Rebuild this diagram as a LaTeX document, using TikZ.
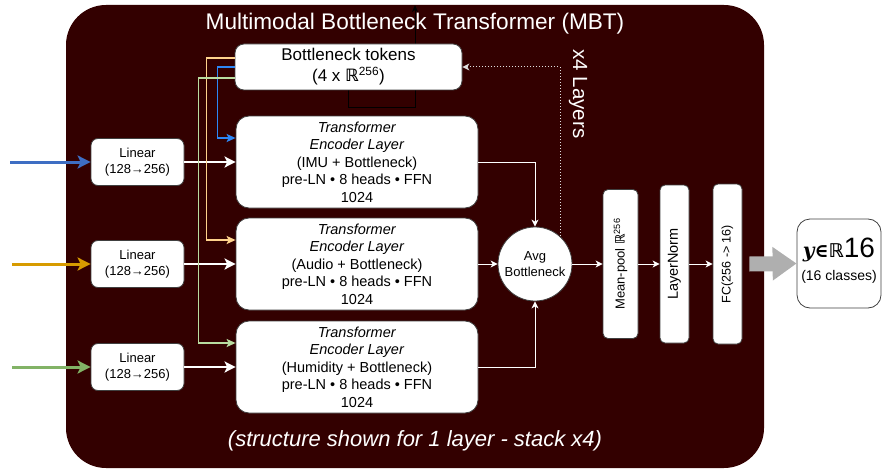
\documentclass[tikz,border=0pt]{standalone}
\usepackage{fontspec}
\setmainfont{Liberation Sans}
\newfontfamily\dv{DejaVu Sans}
\newfontfamily\dvs{DejaVu Serif}
\usetikzlibrary{arrows.meta}
\pgfdeclarelayer{bottom}
\pgfdeclarelayer{behind}
\pgfsetlayers{bottom,behind,main}
\definecolor{bgc}{RGB}{51,0,0}
\definecolor{inblue}{RGB}{62,110,195}
\definecolor{inorange}{RGB}{215,155,0}
\definecolor{ingreen}{RGB}{130,179,102}
\definecolor{bnblue}{RGB}{45,135,245}
\definecolor{bnorange}{RGB}{255,210,140}
\definecolor{bngreen}{RGB}{185,220,160}
\definecolor{bigarrow}{RGB}{175,175,175}
\tikzset{
  wbox/.style={draw=black!75, line width=0.8pt, fill=white, inner sep=0pt, align=center, text=black},
  linbox/.style={wbox, rounded corners=7pt, minimum width=93pt, minimum height=47pt, font=\fontsize{13}{16.5}\selectfont},
  tfbox/.style={wbox, rounded corners=13pt, minimum width=242pt, minimum height=92pt, font=\fontsize{14.5}{17.5}\selectfont},
  tallbox/.style={wbox, rounded corners=5pt, inner sep=0pt},
  inarrow/.style={line width=3pt, -{Stealth[length=13pt,width=13pt,inset=3pt]}},
  warrow/.style={white, line width=2.5pt, -{Stealth[length=11pt,width=11pt,inset=2.5pt]}},
  bnline/.style={line width=1.6pt, -{Stealth[length=9pt,width=8pt,inset=2pt]}},
  thinw/.style={white, line width=1pt, -{Stealth[length=7pt,width=7pt,inset=2pt]}},
  dotw/.style={white!75!gray, line width=1pt, dotted, -{Stealth[length=7pt,width=7pt,inset=2pt]}},
  wtext/.style={text=white, inner sep=0pt}
}
\begin{document}
\begin{tikzpicture}[x=1pt,y=-1pt]
\useasboundingbox (0,0) rectangle (882,468);
\begin{pgfonlayer}{bottom}
\fill[bgc, rounded corners=40pt] (66,5) rectangle (764,468);
\end{pgfonlayer}

\node[wtext, font=\fontsize{22.6}{22.6}\selectfont] (title) at (415,24) {Multimodal Bottleneck Transformer (MBT)};
\node[wtext, font=\fontsize{22}{22}\selectfont\itshape] (foot) at (415,441) {(structure shown for 1 layer - stack x4)};
\node[wtext, rotate=-90, font=\fontsize{20.5}{20.5}\selectfont] (x4) at (578,94) {x4 Layers};

\node[wbox, rounded corners=9pt, minimum width=227pt, minimum height=46pt, font=\fontsize{17}{21}\selectfont] (bt) at (348.5,67) {Bottleneck tokens\\(4 x {\dv\bfseries ℝ}\textsuperscript{256})};

\node[tfbox] (t1) at (357,162) {\textit{Transformer}\\\textit{Encoder Layer}\\(IMU + Bottleneck)\\pre-LN • 8 heads • FFN\\1024};
\node[tfbox] (t2) at (357,264) {\textit{Transformer}\\\textit{Encoder Layer}\\(Audio + Bottleneck)\\pre-LN • 8 heads • FFN\\1024};
\node[tfbox] (t3) at (357,367) {\textit{Transformer}\\\textit{Encoder Layer}\\(Humidity + Bottleneck)\\pre-LN • 8 heads • FFN\\1024};

\node[linbox] (l1) at (137.5,162) {Linear\\(128→256)};
\node[linbox] (l2) at (137.5,264) {Linear\\(128→256)};
\node[linbox] (l3) at (137.5,367) {Linear\\(128→256)};

\node[wbox, circle, minimum size=74pt, font=\fontsize{13}{16}\selectfont] (avg) at (535,264) {Avg\\Bottleneck};

\node[tallbox, minimum width=35pt, minimum height=149pt] (mp) at (620.5,264) {};
\node[rotate=90, font=\fontsize{13}{13}\selectfont, inner sep=0pt] (mpt) at (mp.center) {Mean-pool {\dv\bfseries ℝ}\textsuperscript{256}};
\node[tallbox, minimum width=29pt, minimum height=158pt] (ln) at (674.5,264) {};
\node[rotate=90, font=\fontsize{14.5}{14.5}\selectfont, inner sep=0pt] (lnt) at (ln.center) {LayerNorm};
\node[tallbox, minimum width=29pt, minimum height=160pt] (fc) at (727.5,264) {};
\node[rotate=90, font=\fontsize{12.5}{12.5}\selectfont, inner sep=0pt] (fct) at (fc.center) {FC(256 -> 16)};

\node[wbox, rounded corners=13pt, minimum width=84pt, minimum height=89pt] (out) at (839,263.5) {};
\node[inner sep=0pt] (outa) at (839,250) {{\fontsize{20}{20}\selectfont\dvs\bfseries\itshape y}{\fontsize{19}{19}\selectfont\dvs\bfseries ∈}{\fontsize{19}{19}\selectfont\dv\bfseries ℝ}{\fontsize{28}{28}\selectfont 16}};
\node[inner sep=0pt, font=\fontsize{14}{14}\selectfont] (outb) at (839,277) {(16 classes)};

% black loop arrow
\coordinate (topc) at (415,5);
\begin{pgfonlayer}{behind}
\draw[black, line width=1pt, -{Stealth[length=7pt,width=6pt,inset=2pt]}] (bt.south) -- ++(0,17) -| (topc);
\end{pgfonlayer}

% inputs
\coordinate (in1) at (10,162);
\coordinate (in2) at (12,264);
\coordinate (in3) at (12,367);
\draw[inarrow, inblue] (in1) -- (l1.west);
\draw[inarrow, inorange] (in2) -- (l2.west);
\draw[inarrow, ingreen] (in3) -- (l3.west);

\draw[warrow] (l1.east) -- (t1.west);
\draw[warrow] (l2.east) -- (t2.west);
\draw[warrow] (l3.east) -- (t3.west);

% bottleneck distribution
\draw[bnline, bnorange] ([yshift=9pt]bt.west) -- ++(-28,0) |- ([yshift=24pt]t2.west);
\draw[bnline, bnblue] (bt.west) -- ++(-17,0) |- ([yshift=24pt]t1.west);
\draw[bnline, bngreen] ([yshift=-11pt]bt.west) -- ++(-36,0) |- ([yshift=24pt]t3.west);

% to average
\draw[thinw] (t1.east) -| (avg.north);
\draw[thinw] (t2.east) -- (avg.west);
\draw[thinw] (t3.east) -| (avg.south);
\draw[dotw] (avg.48) |- (bt.east);

\draw[thinw] (avg.east) -- (mp.west);
\draw[thinw] (mp.east) -- (ln.west);
\draw[thinw] (ln.east) -- (fc.west);

\draw[bigarrow, line width=15pt, -{Triangle[length=24pt,width=32pt]}] ([xshift=7pt]fc.east) -- (out.west);
\end{tikzpicture}
\end{document}
